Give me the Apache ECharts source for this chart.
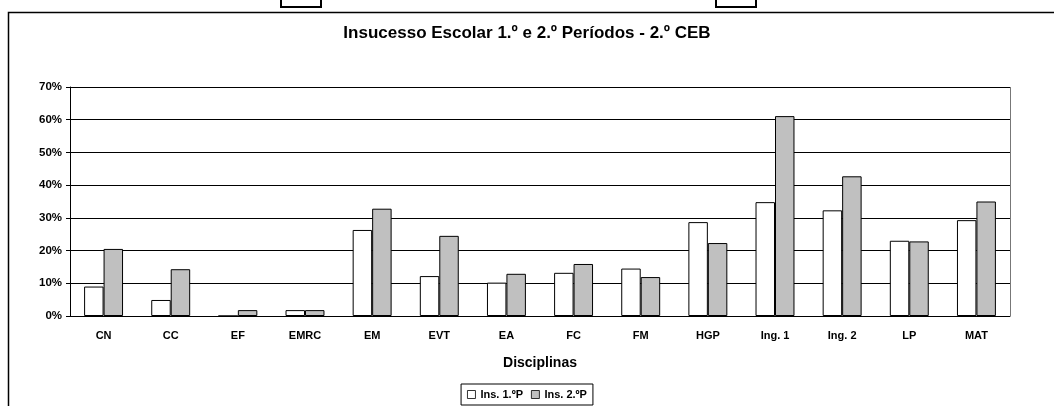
<!DOCTYPE html>
<html>
<head>
<meta charset="utf-8">
<script src="https://cdn.jsdelivr.net/npm/echarts@6/dist/echarts.min.js"></script>
<style>
html,body{margin:0;padding:0;background:#fff;}
#chart{width:1054px;height:406px;}
</style>
</head>
<body>
<div id="chart"></div>
<script>
var disciplinas = ['CN','CC','EF','EMRC','EM','EVT','EA','FC','FM','HGP','Ing. 1','Ing. 2','LP','MAT'];
var ins1P = [9.0, 4.9, 0, 1.8, 26.3, 12.2, 10.2, 13.2, 14.5, 28.7, 34.8, 32.3, 23.0, 29.3];
var ins2P = [20.5, 14.3, 1.8, 1.8, 32.8, 24.5, 12.9, 15.9, 11.9, 22.3, 61.1, 42.7, 22.8, 35.0];
var yTicks = [0, 10, 20, 30, 40, 50, 60, 70];

var fnt = '"Liberation Sans", Arial, sans-serif';
var myChart = echarts.init(document.getElementById('chart'));

var option = {
    animation: false,
    backgroundColor: '#fff',
    title: {
        text: 'Insucesso Escolar 1.º e 2.º Períodos - 2.º CEB',
        left: 'center',
        top: 25,
        padding: 0,
        textStyle: {fontFamily: fnt, fontSize: 17, fontWeight: 'bold', color: '#000'}
    },
    grid: {left: 70, right: 44, top: 87, bottom: 90},
    legend: {
        bottom: 1,
        left: 'center',
        itemWidth: 8,
        itemHeight: 8,
        itemGap: 8,
        padding: [5, 6],
        borderColor: '#000',
        borderWidth: 1,
        icon: 'rect',
        itemStyle: {borderWidth: 0.8, borderColor: '#000'},
        textStyle: {fontFamily: fnt, fontSize: 11, fontWeight: 'bold', color: '#000'}
    },
    xAxis: {
        type: 'category',
        data: disciplinas,
        name: 'Disciplinas',
        nameLocation: 'middle',
        nameGap: 40,
        nameTextStyle: {fontFamily: fnt, fontSize: 14, fontWeight: 'bold', color: '#000'},
        axisLine: {lineStyle: {color: '#000', width: 1}},
        axisTick: {length: 4, lineStyle: {color: '#000'}},
        axisLabel: {fontFamily: fnt, fontSize: 11, fontWeight: 'bold', color: '#000', margin: 14}
    },
    yAxis: {
        type: 'value',
        min: 0,
        max: 70,
        interval: 10,
        axisLine: {show: true, lineStyle: {color: '#000', width: 1}},
        axisTick: {show: true, length: 4, lineStyle: {color: '#000'}},
        axisLabel: {
            fontFamily: fnt, fontSize: 11.5, fontWeight: 'bold', color: '#000', margin: 8,
            formatter: function (v) { return yTicks.indexOf(v) >= 0 ? v + '%' : ''; }
        },
        splitLine: {show: true, lineStyle: {color: '#000', width: 1}}
    },
    graphic: [
        // moldura da área do gráfico
        {type: 'rect', shape: {x: 8.5, y: 12.5, width: 1060, height: 420}, style: {fill: null, stroke: '#000', lineWidth: 1.5}, silent: true},
        // borda direita da área de plotagem
        {type: 'line', shape: {x1: 1010.5, y1: 87, x2: 1010.5, y2: 316}, style: {stroke: '#777', lineWidth: 1}, silent: true},
        // restos das caixas de cima (outro gráfico cortado)
        {type: 'rect', shape: {x: 281, y: -4, width: 40, height: 11}, style: {fill: '#fff', stroke: '#000', lineWidth: 2}, silent: true},
        {type: 'rect', shape: {x: 716, y: -4, width: 40, height: 11}, style: {fill: '#fff', stroke: '#000', lineWidth: 2}, silent: true}
    ],
    series: [
        {
            name: 'Ins. 1.ºP',
            type: 'bar',
            data: ins1P,
            barGap: '0%',
            barCategoryGap: '42%',
            itemStyle: {color: '#ffffff', borderColor: '#000', borderWidth: 1}
        },
        {
            name: 'Ins. 2.ºP',
            type: 'bar',
            data: ins2P,
            barGap: '0%',
            barCategoryGap: '42%',
            itemStyle: {color: '#c0c0c0', borderColor: '#000', borderWidth: 1}
        }
    ]
};
myChart.setOption(option, true);
</script>
</body>
</html>
